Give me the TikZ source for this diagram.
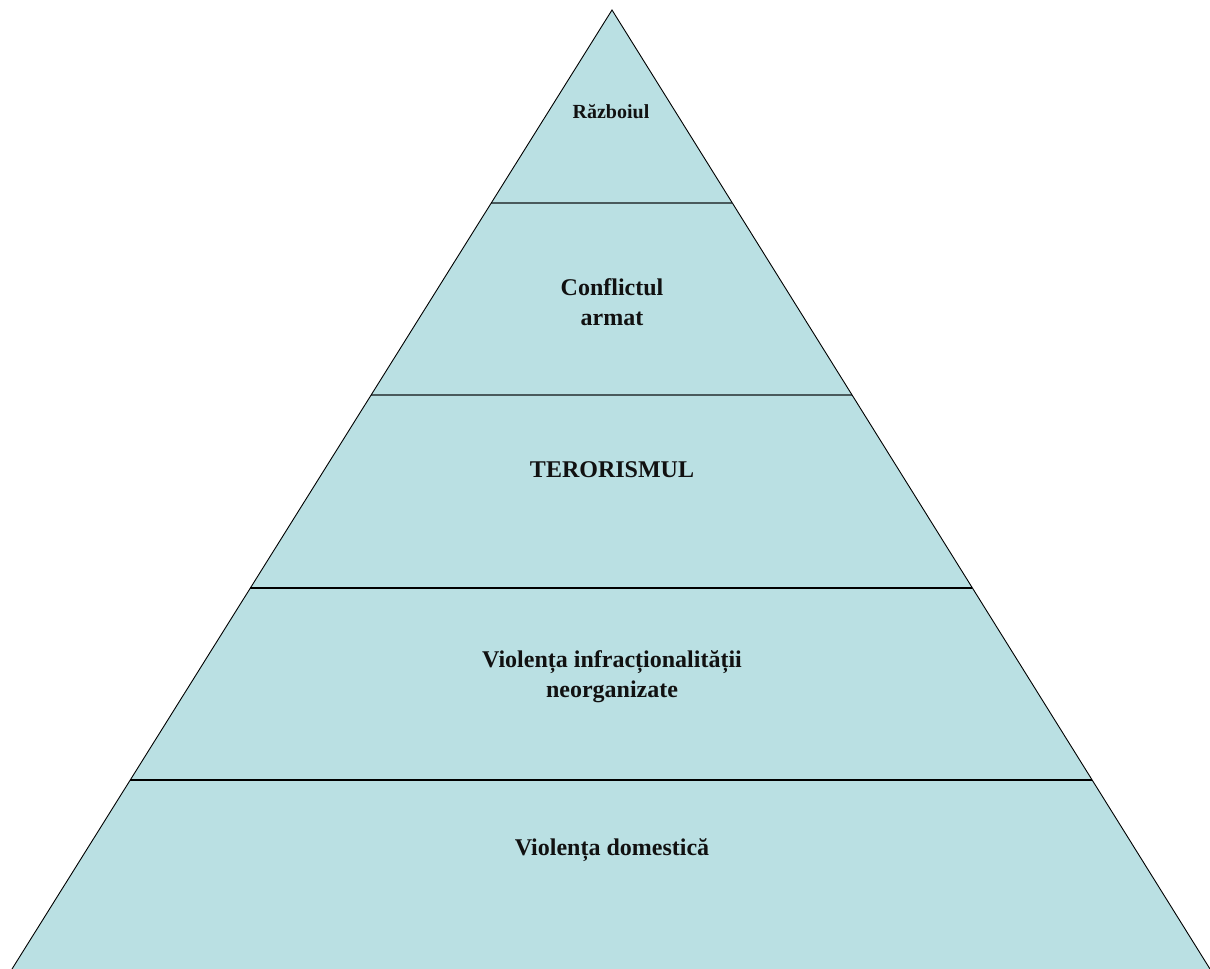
\documentclass[tikz,border=0pt]{standalone}
\usepackage{fontspec}
\setmainfont{Liberation Serif}
\usepackage{xcolor}
\usepackage{tikz}
\usetikzlibrary{calc}
\definecolor{PyrFill}{HTML}{BAE0E3}
\definecolor{PyrRule}{HTML}{4A5A5C}
\definecolor{PyrDark}{HTML}{111111}

\begin{document}
\begin{tikzpicture}[x=1pt,y=-1pt,
    lvl/.style={font=\bfseries\fontsize{24}{30}\selectfont,align=center,PyrDark}]
  \useasboundingbox (0,0) rectangle (1210,969);
  \coordinate (apex) at (612,10);
  \coordinate (bl) at (12,969);
  \coordinate (br) at (1210,969);
  \fill[PyrFill] (apex) -- (bl) -- (br) -- cycle;
  % band rules
  \foreach \t/\w/\c in {0.2013/2.8pt/PyrRule,0.4015/2.8pt/PyrRule,
                         0.6027/1.4pt/black,0.8029/1.4pt/black}
    \draw[line width=\w,\c] ($(apex)!\t!(bl)$) -- ($(apex)!\t!(br)$);
  \draw[line width=0.9pt,line join=miter] (bl) -- (apex) -- (br);
  % labels
  \node[lvl,font=\bfseries\fontsize{20}{26}\selectfont] (war) at (611,112) {Războiul};
  \node[lvl] (armed) at (612,302) {Conflictul\\armat};
  \node[lvl] (terror) at (612,470) {TERORISMUL};
  \node[lvl] (crime) at (612,677) {Violența infracționalității\\neorganizate};
  \node[lvl] (domestic) at (612,850) {Violența domestică};
\end{tikzpicture}
\end{document}
